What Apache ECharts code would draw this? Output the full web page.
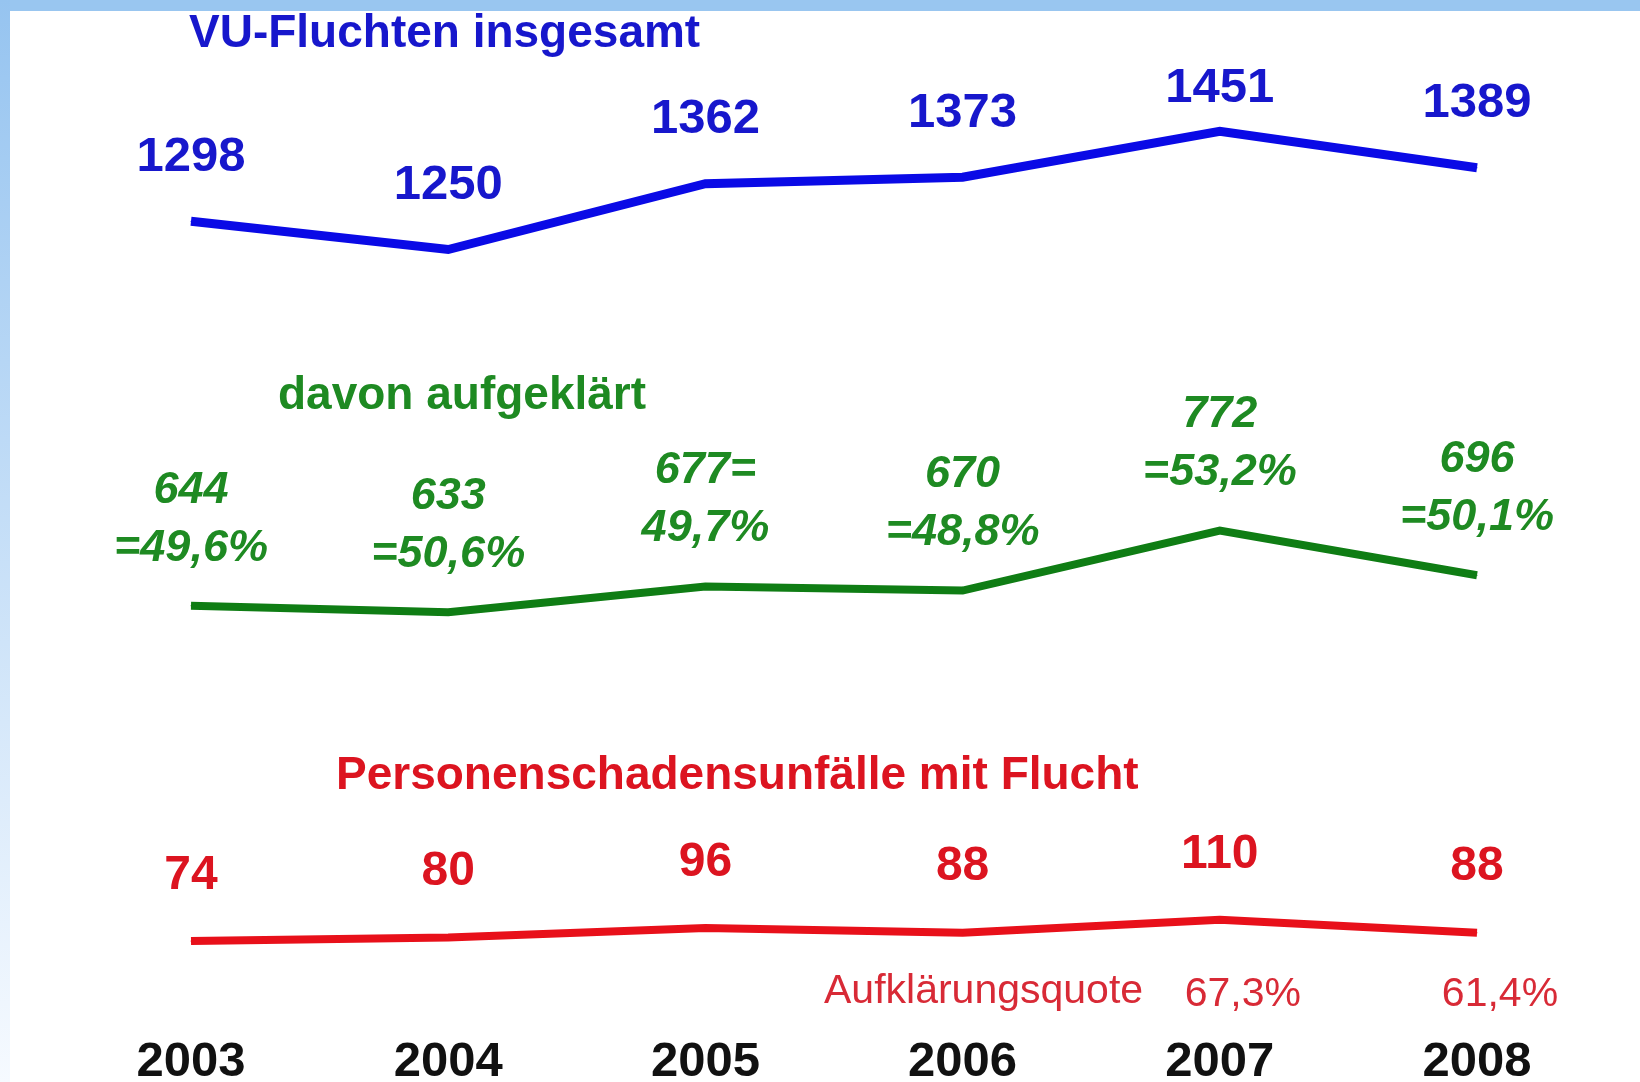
<!DOCTYPE html>
<html>
<head>
<meta charset="UTF-8">
<title>VU-Fluchten</title>
<script src="https://cdn.jsdelivr.net/npm/echarts@6/dist/echarts.min.js"></script>
<style>
  html, body { margin: 0; padding: 0; background: #fff; }
  #main { width: 1640px; height: 1082px; }
</style>
</head>
<body>
<div id="main"></div>
<script>
// Jahre (Kategorien)
var years = ['2003', '2004', '2005', '2006', '2007', '2008'];
// VU-Fluchten insgesamt
var vuTotal = [1298, 1250, 1362, 1373, 1451, 1389];
// davon aufgeklaert
var solved = [644, 633, 677, 670, 772, 696];
var solvedLabels = ['644\n=49,6%', '633\n=50,6%', '677=\n49,7%', '670\n=48,8%', '772\n=53,2%', '696\n=50,1%'];
// Personenschadensunfaelle mit Flucht
var injury = [74, 80, 96, 88, 110, 88];
var injuryQuote = ['', '', '', '', '67,3%', '61,4%'];

var FONT = '"Liberation Sans", Arial, sans-serif';
var chart = echarts.init(document.getElementById('main'));

chart.setOption({
  backgroundColor: '#ffffff',
  animation: false,
  title: [
    { text: 'VU-Fluchten insgesamt', left: 189, top: 11, padding: 0,
      textStyle: { color: '#1717cc', fontSize: 46, fontWeight: 'bold', fontFamily: FONT } },
    { text: 'davon aufgeklärt', left: 278, top: 373, padding: 0,
      textStyle: { color: '#1e8a22', fontSize: 46, fontWeight: 'bold', fontFamily: FONT } },
    { text: 'Personenschadensunfälle mit Flucht', left: 336, top: 753, padding: 0,
      textStyle: { color: '#dc1420', fontSize: 46, fontWeight: 'bold', fontFamily: FONT } },
    { text: 'Aufklärungsquote', left: 824, top: 971, padding: 0,
      textStyle: { color: '#d82a36', fontSize: 41, fontWeight: 'normal', fontFamily: FONT } }
  ],
  graphic: [
    { type: 'rect', left: 0, top: 0, z: 100,
      shape: { width: 1640, height: 11 }, style: { fill: '#99c6f0' } },
    { type: 'rect', left: 0, top: 0, z: 100,
      shape: { width: 10, height: 1082 },
      style: { fill: new echarts.graphic.LinearGradient(0, 0, 0, 1, [
        { offset: 0, color: '#96c4f0' },
        { offset: 1, color: '#f6faff' }
      ]) } }
  ],
  grid: { left: 191, right: 163, top: 102.5, bottom: 97.5, outerBoundsMode: 'none' },
  xAxis: [
    {
      type: 'category', data: years, boundaryGap: false,
      axisLine: { show: false }, axisTick: { show: false }, splitLine: { show: false },
      axisLabel: { margin: 53, color: '#111', fontSize: 49, fontWeight: 'bold', fontFamily: FONT }
    },
    {
      type: 'category', data: years, boundaryGap: false, position: 'bottom',
      axisLine: { show: false }, axisTick: { show: false }, splitLine: { show: false },
      axisLabel: {
        margin: -10, color: '#d82a36', fontSize: 41, fontFamily: FONT,
        formatter: function (v, i) { return injuryQuote[i] ? '{q|' + injuryQuote[i] + '}' : ''; },
        rich: { q: { color: '#d82a36', fontSize: 41, fontFamily: FONT, padding: [0, 0, 0, 46] } }
      }
    }
  ],
  yAxis: { type: 'value', min: 0, max: 1500, show: false, splitLine: { show: false } },
  series: [
    {
      name: 'VU-Fluchten insgesamt', type: 'line',
      data: vuTotal.map(function (v, i) {
        return i === 4 ? { value: v, label: { distance: 18 } } : v;
      }),
      symbol: 'circle', symbolSize: 1,
      lineStyle: { color: '#0a0ae6', width: 9, cap: 'butt', join: 'miter' },
      itemStyle: { color: '#0a0ae6' },
      label: { show: true, position: 'top', distance: 39, color: '#1717cc',
        fontSize: 49, fontWeight: 'bold', fontFamily: FONT }
    },
    {
      name: 'davon aufgeklärt', type: 'line', data: solved,
      symbol: 'circle', symbolSize: 1,
      lineStyle: { color: '#0f7d14', width: 8, cap: 'butt', join: 'miter' },
      itemStyle: { color: '#0f7d14' },
      label: { show: true, position: 'top', distance: 28, color: '#1e8a22',
        fontSize: 45, fontWeight: 'bold', fontStyle: 'italic', fontFamily: FONT,
        lineHeight: 58, align: 'center',
        formatter: function (p) { return solvedLabels[p.dataIndex]; } }
    },
    {
      name: 'Personenschadensunfälle mit Flucht', type: 'line', data: injury,
      symbol: 'circle', symbolSize: 1,
      lineStyle: { color: '#e8101a', width: 8, cap: 'butt', join: 'miter' },
      itemStyle: { color: '#e8101a' },
      label: { show: true, position: 'top', distance: 41, color: '#dc1420',
        fontSize: 48, fontWeight: 'bold', fontFamily: FONT }
    }
  ]
});
</script>
</body>
</html>
